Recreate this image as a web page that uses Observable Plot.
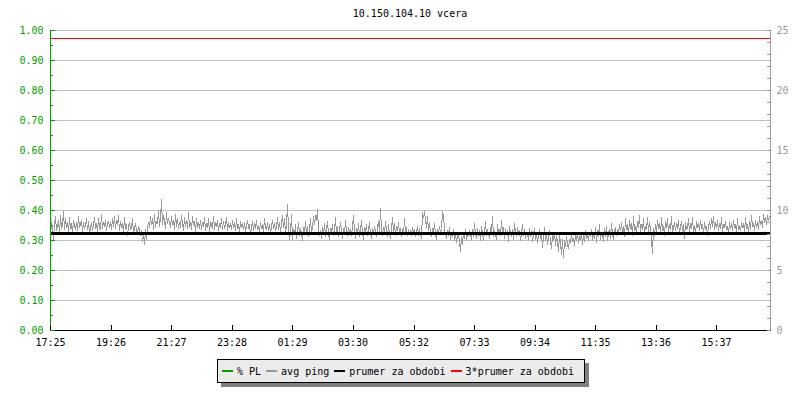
<!DOCTYPE html>
<html>
<head>
<meta charset="utf-8">
<script src="https://cdn.jsdelivr.net/npm/d3@7"></script>
<script src="https://cdn.jsdelivr.net/npm/@observablehq/plot@0.6"></script>
<style>
  body { margin: 0; background: #fff; }
  #wrap { position: relative; width: 800px; height: 400px; font-family: "DejaVu Sans Mono", monospace; font-size: 10px; color: #000; }
  #title { position: absolute; left: 0; width: 820px; top: 8px; line-height: 12px; text-align: center; }
  #chart { position: absolute; left: 0; top: 0; }
  #legend { position: absolute; left: 217px; top: 359px; width: 362px; height: 22px; border: 1px solid #000; background: #ebebeb; box-shadow: 4px 4px 0 #808080; display: flex; align-items: center; padding-left: 4px; box-sizing: content-box; }
  .sw { display: inline-block; width: 11px; height: 2px; margin-right: 4px; }
  .it { display: flex; align-items: center; margin-right: 5px; white-space: pre; }
</style>
</head>
<body>
<div id="wrap">
  <div id="chart"></div>
  <div id="title"></div>
  <div id="legend"></div>
</div>
<script>
// ---- data ----
const titleText = "10.150.104.10 vcera";
const startTime = "2024-01-01T17:25:00Z";
const spanMinutes = 1440;
const xTickLabels = ["17:25","19:26","21:27","23:28","01:29","03:30","05:32","07:33","09:34","11:35","13:36","15:37"];
const leftTicks = [0,0.1,0.2,0.3,0.4,0.5,0.6,0.7,0.8,0.9,1.0];
const leftMinorTicks = [0.05,0.15,0.25,0.35,0.45,0.55,0.65,0.75,0.85,0.95];
const rightTicks = [0,5,10,15,20,25];
const rightMinorTicks = [0,1,2,3,4,5,6,7,8,9,10,11,12,13,14,15,16,17,18,19,20,21,22,23,24,25];
const pingMax = 25;
const pingMean = 8.1;          // "prumer za obdobi"
const plValues = [0, 0];        // % PL at start and end (flat at 0)
const legendNames = ["% PL", "avg ping", "prumer za obdobi", "3*prumer za obdobi"];
const legendColors = ["#00a000", "#999999", "#000000", "#ff0000"];
// avg ping (ms), evenly spaced samples over the 24 h window
const pingValues = [
  7.7,9.1,8.4,7.6,8.9,9.5,8.3,8.7,9.2,8.0,9.6,8.5,8.8,9.9,8.4,9.3,8.6,9.0,8.2,9.4,8.5,8.9,8.1,9.2,8.7,8.4,9.0,8.3,9.5,8.6,
  8.8,9.2,8.2,9.0,8.5,8.7,9.3,8.4,9.1,8.0,8.6,9.0,8.3,8.8,9.4,8.5,8.9,8.2,9.3,8.6,8.4,9.7,8.5,9.0,8.7,9.2,8.3,8.9,9.1,8.6,
  9.0,8.4,9.3,8.7,9.5,8.5,9.2,8.8,9.6,8.3,9.1,8.6,8.9,8.2,9.4,8.5,8.8,7.9,8.7,9.0,8.4,8.6,9.3,8.1,8.5,8.9,8.3,8.0,8.7,8.4,
  7.9,8.3,7.4,8.1,7.2,8.4,7.6,8.5,9.0,8.6,9.5,8.8,9.3,8.4,9.7,8.6,9.1,8.9,10.0,8.7,9.4,10.9,8.8,9.6,9.1,8.5,9.8,8.9,9.3,9.0,
  8.6,9.5,8.8,9.2,8.4,9.7,8.7,9.3,8.5,9.0,8.6,9.6,8.9,8.3,9.4,8.7,9.2,8.5,9.8,8.6,9.0,8.4,9.5,8.8,9.1,8.2,9.3,8.6,9.0,8.5,
  9.2,8.4,9.0,8.7,9.4,8.3,8.9,8.6,9.3,8.2,9.1,8.8,8.5,9.5,8.4,9.0,8.7,9.2,8.3,8.9,8.6,9.3,8.4,9.1,8.5,8.8,9.4,8.3,9.0,8.6,
  8.9,8.4,9.2,8.6,9.0,8.3,9.3,8.5,8.8,8.1,9.1,8.6,8.9,8.4,9.0,8.2,8.7,9.2,8.5,8.8,8.0,8.6,9.1,8.3,8.9,8.5,9.2,8.4,8.7,8.2,
  9.0,8.5,8.8,8.2,9.3,8.6,8.4,9.0,8.3,8.8,8.1,8.7,9.2,8.5,8.9,8.3,8.6,9.4,8.4,9.0,8.2,8.9,9.6,8.6,9.3,8.1,8.8,10.5,8.4,7.6,
  8.2,9.7,7.6,8.4,8.0,8.8,7.7,8.3,9.0,7.9,8.5,8.1,7.5,8.6,8.2,9.1,8.0,8.7,7.8,8.4,9.3,8.1,8.6,9.5,8.8,9.6,9.2,10.1,8.4,7.9,
  8.3,7.7,8.6,8.0,8.9,7.8,8.4,9.1,8.0,7.6,8.5,8.2,8.8,7.9,8.3,9.4,8.1,8.6,7.8,8.4,9.0,8.2,7.7,8.5,8.0,9.2,8.3,7.9,8.6,8.1,
  8.4,7.9,8.7,9.6,8.2,7.7,8.5,8.0,8.9,7.8,8.3,9.2,8.1,7.6,8.6,8.2,8.8,7.9,8.4,9.0,8.0,7.7,8.5,8.1,8.7,8.3,7.8,8.6,9.1,8.2,
  10.2,8.3,7.9,8.6,8.1,9.1,8.4,7.8,8.8,8.0,7.7,8.5,9.4,8.2,8.9,7.9,8.7,8.3,9.0,8.1,8.5,7.8,8.4,8.0,9.3,8.2,8.6,7.9,8.4,8.0,
  8.3,7.9,8.6,8.1,8.4,7.8,8.2,8.7,7.9,8.5,8.0,7.7,9.8,9.4,9.9,9.2,8.6,9.5,8.3,9.0,8.1,7.8,8.5,8.2,8.9,8.0,7.6,8.4,8.1,8.7,
  8.0,8.5,9.9,9.6,8.4,8.0,7.7,8.3,7.9,8.6,7.6,8.1,7.8,8.4,7.5,8.2,7.3,7.9,8.0,7.4,6.6,7.8,7.2,8.2,7.7,8.4,7.5,8.0,7.9,8.3,
  8.0,7.6,8.4,7.8,8.9,8.1,7.7,8.5,7.9,8.3,7.5,8.7,8.0,7.6,8.2,9.1,7.9,8.4,8.0,7.7,8.6,8.2,9.5,7.8,8.3,8.0,7.6,8.8,8.2,8.4,
  7.9,9.2,8.1,8.6,7.7,8.5,8.0,8.3,7.4,8.7,8.1,7.8,8.4,7.6,8.9,8.2,7.8,8.6,8.0,8.3,7.5,8.1,8.8,7.9,8.4,7.7,8.2,8.0,7.6,8.5,
  7.8,8.3,7.4,8.0,8.5,7.6,8.2,7.3,7.9,8.4,7.7,8.1,6.9,7.8,8.6,7.5,8.0,7.2,7.7,8.3,7.4,6.8,7.9,7.6,8.2,7.1,7.8,7.4,6.6,7.9,
  7.3,6.3,7.6,6.1,7.5,7.0,7.8,7.2,6.8,7.6,7.3,8.0,7.4,7.7,7.1,7.9,7.5,8.2,7.3,7.8,7.6,8.1,7.2,7.9,7.4,8.3,7.7,8.0,7.5,8.2,
  7.8,8.4,7.5,8.1,7.7,8.6,7.3,8.3,7.9,8.8,7.6,8.2,8.0,7.4,8.5,7.8,8.7,7.5,8.1,8.4,7.7,8.9,8.0,7.6,8.3,8.6,7.9,8.4,8.1,8.8,
  8.3,9.0,8.1,8.7,7.8,9.3,8.4,8.8,8.0,9.2,8.5,8.9,7.9,9.5,8.3,8.7,8.1,9.1,8.6,9.6,8.2,8.8,8.4,9.3,8.0,8.7,8.5,9.4,8.2,9.0,
  8.4,7.6,6.4,8.5,7.9,8.8,8.2,9.2,8.5,8.9,8.0,9.4,8.3,8.7,7.9,9.1,8.6,9.3,8.2,8.8,8.4,9.5,8.1,8.6,9.0,8.3,8.9,8.5,9.2,8.0,
  8.7,9.1,8.3,8.8,7.7,9.0,8.4,8.6,9.3,8.1,8.9,8.5,9.4,8.2,8.7,8.0,9.1,8.6,8.9,8.3,9.2,8.5,8.8,8.1,9.0,8.4,8.7,7.9,8.6,9.1,
  8.5,9.3,8.7,9.5,8.4,9.0,8.6,9.2,8.3,8.9,8.5,9.4,8.2,8.8,8.6,9.1,8.4,8.7,8.1,9.0,8.5,8.9,8.3,9.2,8.6,8.8,8.2,9.3,8.4,8.7,
  8.3,9.0,8.6,8.9,8.2,9.4,8.5,8.8,8.1,9.1,8.4,9.6,8.7,8.9,8.3,9.2,8.6,9.0,8.4,9.5,8.8,9.1,8.6,9.7,9.0,9.4,8.8,9.6,9.2,9.5
];

// ---- build tables ----
const t0 = new Date(startTime);
const t1 = d3.utcMinute.offset(t0, spanMinutes);
const step = spanMinutes * 60000 / pingValues.length;
const pingData = pingValues.map((v, i) => ({t: new Date(+t0 + i * step), ping: v}));
const plData = plValues.map((v, i) => ({t: i === 0 ? t0 : t1, pl: v}));
let prev = t0, tickDates = [];
for (const lab of xTickLabels) {
  const [h, m] = lab.split(":").map(Number);
  let d = new Date(t0); d.setUTCHours(h, m, 0, 0);
  if (d < prev) d = d3.utcDay.offset(d, 1);
  tickDates.push(d); prev = d;
}

const W = 800, H = 350, mL = 50, mR = 30, mT = 30, mB = 20;
const plotW = W - mL - mR, plotH = H - mT - mB;
const green = "#00a000", grid = "#c0c0c0", grey = "#999999";
const crisp = {shapeRendering: "crispEdges"};

const chart = Plot.plot({
  width: W, height: H,
  marginLeft: mL, marginRight: mR, marginTop: mT, marginBottom: mB,
  style: {fontFamily: "DejaVu Sans Mono, monospace", fontSize: "10px", background: "transparent", color: "#000"},
  x: {type: "utc", domain: [t0, t1]},
  y: {domain: [0, 1]},
  marks: [
    Plot.ruleY(leftTicks.filter(d => d > 0), {stroke: grid, ...crisp}),
    Plot.ruleY([3 * pingMean / pingMax], {stroke: "#ff0000", ...crisp}),
    Plot.line(pingData, {x: "t", y: d => d.ping / pingMax, stroke: grey, strokeWidth: 1, ...crisp}),
    Plot.ruleY([pingMean / pingMax], {stroke: "#000", strokeWidth: 3, ...crisp}),
    Plot.line(plData, {x: "t", y: "pl", stroke: green, strokeWidth: 1, ...crisp}),
    Plot.ruleY([0], {stroke: "#000", ...crisp}),
    Plot.ruleX([t1], {stroke: grey, ...crisp}),
    Plot.ruleX([t0], {stroke: green, ...crisp}),
    Plot.tickY(leftTicks, {stroke: green, insetRight: plotW - 5, ...crisp}),
    Plot.tickY(leftMinorTicks, {stroke: green, insetRight: plotW - 3, ...crisp}),
    Plot.tickY(rightMinorTicks.map(v => v / pingMax), {stroke: grey, insetLeft: plotW - 3, ...crisp}),
    Plot.tickX(tickDates, {stroke: "#000", insetTop: plotH - 5, ...crisp}),
    Plot.axisY(leftTicks, {anchor: "left", tickSize: 0, tickPadding: 7, tickFormat: d3.format(".2f"), fill: green, color: green, label: null}),
    Plot.axisY(rightTicks.map(v => v / pingMax), {anchor: "right", tickSize: 0, tickPadding: 6, tickFormat: d => String(Math.round(d * pingMax)), fill: grey, color: grey, label: null}),
    Plot.axisX(tickDates, {anchor: "bottom", tickSize: 0, tickPadding: 8, tickFormat: d3.utcFormat("%H:%M"), fill: "#000", label: null})
  ]
});
document.getElementById("chart").appendChild(chart);
document.getElementById("title").textContent = titleText;

const leg = document.getElementById("legend");
legendNames.forEach((name, i) => {
  const it = document.createElement("div");
  it.className = "it";
  const sw = document.createElement("span");
  sw.className = "sw";
  sw.style.background = legendColors[i];
  const tx = document.createElement("span");
  tx.textContent = name;
  it.appendChild(sw); it.appendChild(tx);
  leg.appendChild(it);
});
</script>
</body>
</html>
